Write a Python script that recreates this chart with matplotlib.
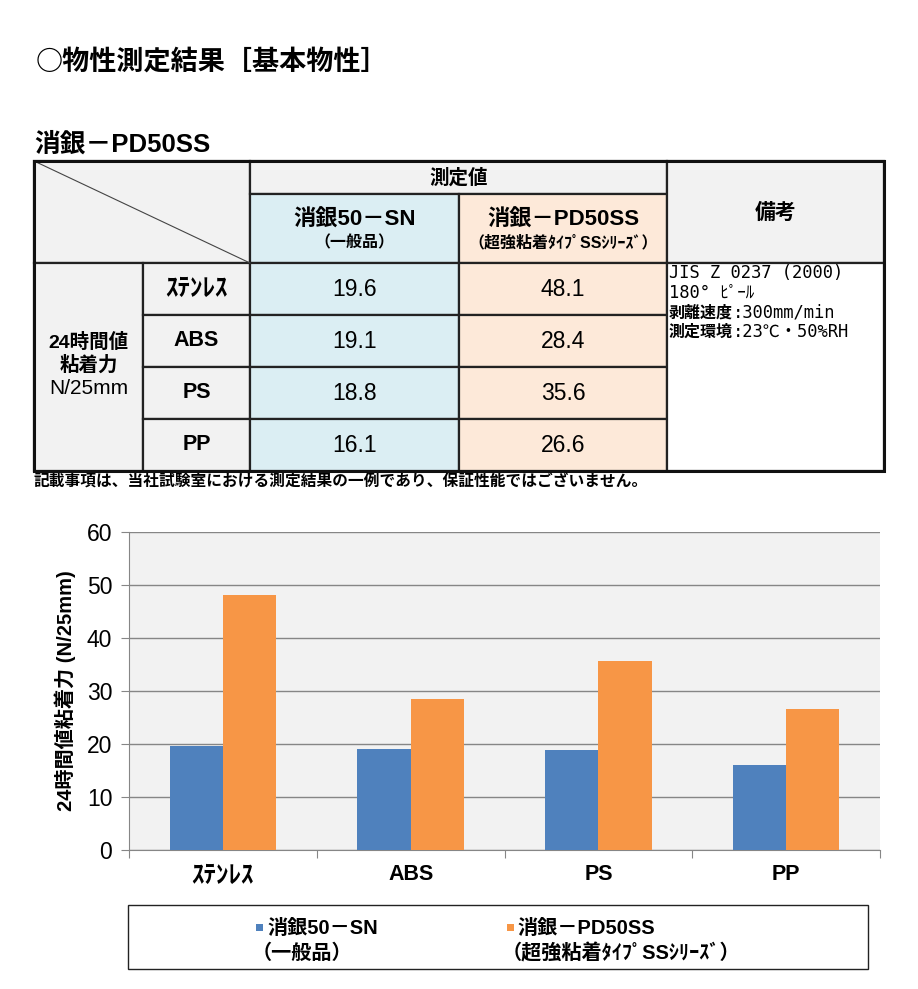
import numpy as np
import matplotlib
matplotlib.use('Agg')
import matplotlib.pyplot as plt
from matplotlib.patches import Rectangle

plt.rcParams['font.family'] = ['Liberation Sans', 'Noto Sans CJK JP', 'DejaVu Sans']

# データ
materials = ['ｽﾃﾝﾚｽ', 'ABS', 'PS', 'PP']
sn_values = [19.6, 19.1, 18.8, 16.1]
pd_values = [48.1, 28.4, 35.6, 26.6]
sn_name = '消銀50－SN'
sn_sub = '（一般品）'
pd_name = '消銀－PD50SS'
pd_sub = '（超強粘着ﾀｲﾌﾟSSｼﾘｰｽﾞ）'
notes = ['JIS Z 0237 (2000)', '180° ﾋﾟｰﾙ', '剥離速度:300mm/min', '測定環境:23℃・50%RH']
y_ticks = [0, 10, 20, 30, 40, 50, 60]

W, H = 918, 989
fig = plt.figure(figsize=(W / 100, H / 100), dpi=100)
fig.patch.set_facecolor('white')

# 表(ピクセル座標)
tx = fig.add_axes([0, 0, 1, 1])
tx.set_xlim(0, W)
tx.set_ylim(H, 0)
tx.axis('off')

grey = '#f2f2f2'
blue_bg = '#dbeef3'
orange_bg = '#fde9d9'
cjk = ['Noto Sans CJK JP', 'DejaVu Sans']

cols = [34, 143, 250, 459, 667, 884]
rows = [161, 194, 263, 315, 367, 419, 471]

def cell(x0, y0, x1, y1, fc):
    tx.add_patch(Rectangle((x0, y0), x1 - x0, y1 - y0, facecolor=fc,
                           edgecolor='#222222', lw=1.6, zorder=1))

cell(cols[0], rows[0], cols[2], rows[2], grey)
cell(cols[2], rows[0], cols[4], rows[1], grey)
cell(cols[2], rows[1], cols[3], rows[2], blue_bg)
cell(cols[3], rows[1], cols[4], rows[2], orange_bg)
cell(cols[4], rows[0], cols[5], rows[2], grey)
cell(cols[0], rows[2], cols[1], rows[6], grey)
for i in range(4):
    cell(cols[1], rows[2 + i], cols[2], rows[3 + i], grey)
    cell(cols[2], rows[2 + i], cols[3], rows[3 + i], blue_bg)
    cell(cols[3], rows[2 + i], cols[4], rows[3 + i], orange_bg)
cell(cols[4], rows[2], cols[5], rows[6], 'white')
tx.add_patch(Rectangle((cols[0], rows[0]), cols[5] - cols[0], rows[6] - rows[0],
                       fill=False, edgecolor='#111111', lw=2.2, zorder=3))
tx.plot([cols[0], cols[2]], [rows[0], rows[2]], color='#444444', lw=0.8, zorder=2)

tx.text(36, 62, '○物性測定結果［基本物性］', fontsize=19.5, fontweight='bold',
        va='center', ha='left', family=cjk)
tx.text(34, 144, '消銀－PD50SS', fontsize=18.5, fontweight='bold', va='center', ha='left')

tx.text((cols[2] + cols[4]) / 2, 178, '測定値', fontsize=14, fontweight='bold',
        ha='center', va='center')
tx.text((cols[2] + cols[3]) / 2, 220, sn_name, fontsize=16, fontweight='bold',
        ha='center', va='center')
tx.text((cols[2] + cols[3]) / 2, 243, sn_sub, fontsize=11.5, fontweight='bold',
        ha='center', va='center')
tx.text((cols[3] + cols[4]) / 2, 220, pd_name, fontsize=16, fontweight='bold',
        ha='center', va='center')
tx.text((cols[3] + cols[4]) / 2, 243, pd_sub, fontsize=11.5, fontweight='bold',
        ha='center', va='center')
tx.text((cols[4] + cols[5]) / 2, 213, '備考', fontsize=15, fontweight='bold',
        ha='center', va='center')

cx0 = (cols[0] + cols[1]) / 2
tx.text(cx0, 342, '24時間値', fontsize=14, fontweight='bold', ha='center', va='center')
tx.text(cx0, 365, '粘着力', fontsize=14, fontweight='bold', ha='center', va='center')
tx.text(cx0, 388, 'N/25mm', fontsize=15, ha='center', va='center')

for i, m in enumerate(materials):
    yc = (rows[2 + i] + rows[3 + i]) / 2
    fs = 18 if m == materials[0] else 15.5
    tx.text((cols[1] + cols[2]) / 2, yc, m, fontsize=fs, fontweight='bold',
            ha='center', va='center')
    tx.text((cols[2] + cols[3]) / 2, yc, f'{sn_values[i]:.1f}', fontsize=16.5,
            ha='center', va='center')
    tx.text((cols[3] + cols[4]) / 2, yc, f'{pd_values[i]:.1f}', fontsize=16.5,
            ha='center', va='center')

mono = ['DejaVu Sans Mono', 'Noto Sans CJK JP']
for j, t in enumerate(notes):
    y = 273 + j * 19.7
    if ':' in t:
        head, body = t.split(':', 1)
        h = tx.text(669, y, head, fontsize=11.5, fontweight='bold', ha='left',
                    va='center', family=cjk)
        tx.annotate(':' + body, xy=(1, 0.5), xycoords=h, fontsize=12.3,
                    ha='left', va='center', family=mono)
    else:
        tx.text(669, y, t, fontsize=12.3, ha='left', va='center', family=mono)

tx.text(34, 482, '記載事項は、当社試験室における測定結果の一例であり、保証性能ではございません。',
        fontsize=11.3, fontweight='bold', ha='left', va='center')

# 凡例
tx.add_patch(Rectangle((128, 905), 740, 64, fill=False, edgecolor='#222222', lw=1.0))
tx.add_patch(Rectangle((256, 924), 7, 7, facecolor='#4f81bd', edgecolor='none'))
tx.add_patch(Rectangle((507, 924), 7, 7, facecolor='#f79646', edgecolor='none'))
tx.text(267, 928, sn_name, fontsize=14.5, fontweight='bold', ha='left', va='center')
tx.text(252, 953, sn_sub, fontsize=14.5, fontweight='bold', ha='left', va='center')
tx.text(517, 928, pd_name, fontsize=14.5, fontweight='bold', ha='left', va='center')
tx.text(502, 953, pd_sub, fontsize=14.5, fontweight='bold', ha='left', va='center')

# グラフ
ax = fig.add_axes([129 / W, 1 - 850 / H, (880 - 129) / W, (850 - 532) / H])
ax.set_facecolor(grey)
x = np.arange(len(materials))
bw = 0.283
ax.bar(x - bw / 2, sn_values, bw, color='#4f81bd', zorder=3)
ax.bar(x + bw / 2, pd_values, bw, color='#f79646', zorder=3)
ax.set_xlim(-0.5, len(materials) - 0.5)
ax.set_ylim(0, 60)
ax.set_yticks(y_ticks)
ax.set_yticklabels([str(v) for v in y_ticks], fontsize=16.5)
ax.yaxis.grid(True, color='#868686', lw=1, zorder=0)
ax.set_axisbelow(True)
ax.set_xticks(np.arange(len(materials) + 1) - 0.5)
ax.set_xticklabels([])
ax.set_xticks(x, minor=True)
ax.set_xticklabels(materials, minor=True, fontweight='bold')
for lbl in ax.get_xticklabels(minor=True):
    lbl.set_fontsize(18 if lbl.get_text() == materials[0] else 15.5)
ax.tick_params(axis='x', which='minor', length=0, pad=10)
ax.tick_params(axis='x', which='major', length=6, color='#868686')
ax.tick_params(axis='y', length=6, color='#868686', pad=6)
for s in ['top', 'right']:
    ax.spines[s].set_visible(False)
for s in ['left', 'bottom']:
    ax.spines[s].set_color('#868686')
ax.set_ylabel('24時間値粘着力 (N/25mm)', fontsize=14.5, fontweight='bold', labelpad=8)

fig.savefig('out.png', dpi=100)
